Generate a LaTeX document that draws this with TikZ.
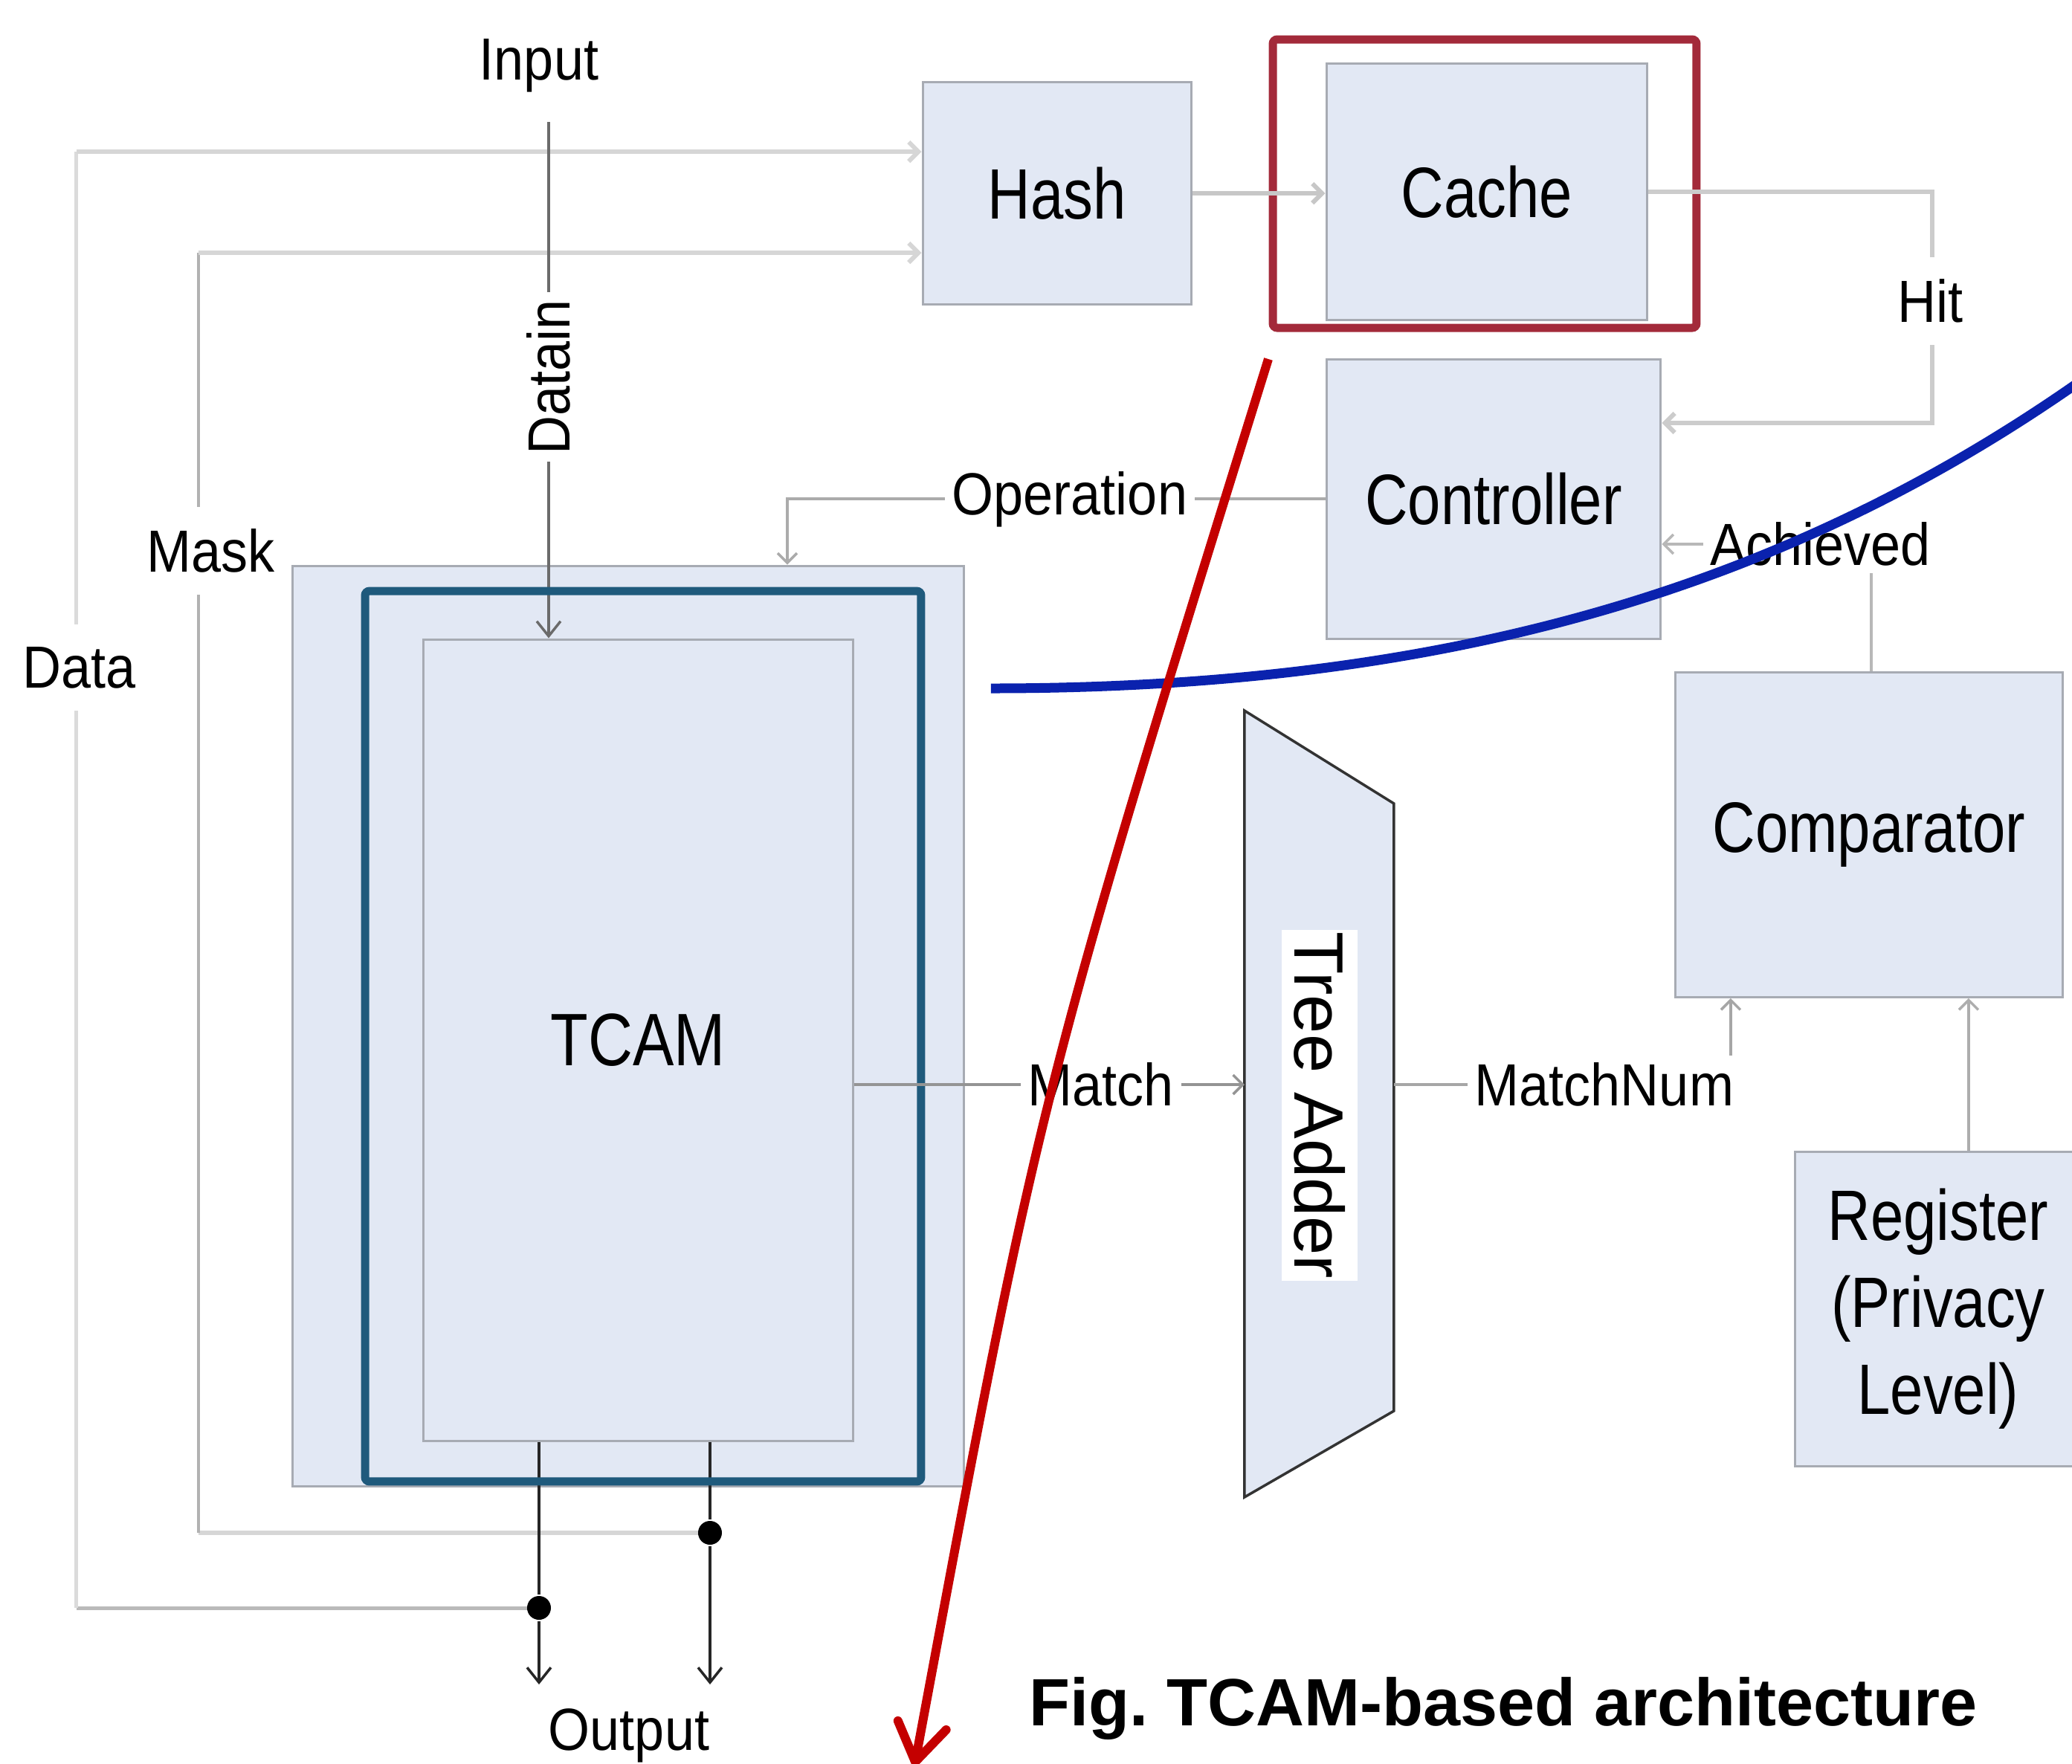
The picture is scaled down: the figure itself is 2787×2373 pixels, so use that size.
\documentclass[tikz,border=0pt]{standalone}
\usepackage{fontspec}
\setmainfont{Liberation Sans}
\newfontfamily\condfam[FakeStretch=0.83]{Liberation Sans}
\newfontfamily\smallfam[FakeStretch=0.9]{Liberation Sans}
\usetikzlibrary{arrows.meta}
\newcommand\bxfont{\condfam\fontsize{9.6}{11.7}\selectfont}
\newcommand\lbfont{\smallfam\fontsize{8}{9.6}\selectfont}
\newcommand\cpfont{\fontsize{9}{11}\selectfont\bfseries}
\definecolor{boxfill}{HTML}{E2E8F4}
\definecolor{boxgray}{HTML}{A7ABB3}
\definecolor{redbox}{HTML}{A32A3A}
\definecolor{tcamblue}{HTML}{1F5A7C}
\definecolor{curveblue}{HTML}{0A22AE}
\definecolor{curvered}{HTML}{C40000}
\tikzset{
  blk/.style={draw=boxgray, line width=0.3pt, fill=boxfill, inner sep=0pt, font=\bxfont},
  lbl/.style={font=\lbfont, inner sep=1pt, fill=white},
  gtip/.style={-{Straight Barb[length=1.3pt,width=2.6pt]}},
  dtip/.style={-{Straight Barb[length=2pt,width=3.2pt]}},
  paleline/.style={draw=black!16, line width=0.6pt},
  midline/.style={draw=black!30, line width=0.35pt},
  darkline/.style={draw=black!58, line width=0.35pt},
  blackline/.style={draw=black!85, line width=0.35pt},
  dot/.style={circle, fill=black, inner sep=0pt, minimum size=3.2pt},
}
\begin{document}
\begin{tikzpicture}[x=0.1pt, y=-0.1pt]
\useasboundingbox (0,0) rectangle (2787,2373);
\fill[white] (0,0) rectangle (2787,2373);

% ---- functional blocks ----
\node[blk, minimum width=36.2pt, minimum height=29.9pt] (hash) at (1422,260) {Hash};
\node[blk, minimum width=43.2pt, minimum height=34.5pt] (cache) at (2000,258) {Cache};
\node[draw=redbox, line width=1.1pt, rounded corners=0.6pt, minimum width=57pt, minimum height=38.8pt] (hl) at (1997,247) {};
\node[blk, minimum width=45pt, minimum height=37.6pt] (ctrl) at (2009,671) {Controller};
\node[blk, minimum width=52.1pt, minimum height=43.7pt] (comp) at (2514,1123) {Comparator};
\node[blk, minimum width=38.6pt, minimum height=42.3pt, align=center] (reg) at (2607,1761) {Register\\(Privacy\\Level)};

% ---- feedback paths: Data and Mask ----
\coordinate (dotApos) at (725,2163);
\coordinate (dotBpos) at (955,2062);
\coordinate (dbot) at (103,2163);
\coordinate (dtop) at (103,204);
\draw[draw=black!27, line width=0.5pt] (dotApos) -- (dbot);
\draw[draw=black!14, line width=0.5pt] (dbot) -- (dtop);
\draw[paleline, gtip] (dtop) -- (dtop -| hash.west);
\node[lbl, inner sep=3pt] (datal) at (107,898) {Data};

\coordinate (mbot) at (267,2062);
\coordinate (mtop) at (267,340);
\draw[paleline] (dotBpos) -- (mbot);
\draw[midline] (mbot) -- (mtop);
\draw[paleline, gtip] (mtop) -- (mtop -| hash.west);
\node[lbl, inner sep=3pt] (maskl) at (284,741) {Mask};

% ---- TCAM block ----
\node[blk, minimum width=90.4pt, minimum height=123.9pt] (outer) at (845,1380.5) {};
\node[blk, minimum width=57.9pt, minimum height=107.9pt, font=\condfam\fontsize{10}{12}\selectfont] (tcam) at (858.5,1399.5) {TCAM};

% ---- tree adder ----
\coordinate (ta1) at (1674,956);
\coordinate (ta2) at (1875,1081);
\coordinate (ta3) at (1875,1898);
\coordinate (ta4) at (1674,2014);
\coordinate (adderin) at (1674,1459);
\coordinate (adderout) at (1875,1459);
\draw[fill=boxfill, draw=black!80, line width=0.35pt] (ta1) -- (ta2) -- (ta3) -- (ta4) -- cycle;
\node[fill=white, rotate=-90, inner xsep=0.3pt, inner ysep=1.6pt, font=\fontsize{9.4}{11}\selectfont] (adder) at (1775,1487) {Tree Adder};

% ---- Input / Datain ----
\node[font=\lbfont] (input) at (725,88) {Input};
\coordinate (intop) at (738,164);
\draw[darkline, dtip] (intop) -- (intop |- tcam.north);
\node[lbl, rotate=90] (datain) at (738,507) {Datain};

% ---- outputs ----
\node[dot] (dotA) at (dotApos) {};
\node[dot] (dotB) at (dotBpos) {};
\coordinate (outA) at (725,2266);
\coordinate (outB) at (955,2266);
\draw[blackline, dtip] (tcam.south -| outA) -- (dotA) -- (outA);
\draw[blackline, dtip] (tcam.south -| outB) -- (dotB) -- (outB);
\node[font=\lbfont] (outl) at (846,2335) {Output};

% ---- blue frame around the TCAM array ----
\node[draw=tcamblue, line width=1.1pt, rounded corners=0.6pt, minimum width=74.8pt, minimum height=119.8pt] (frame) at (865,1394) {};

% ---- Hash -> Cache ----
\draw[paleline, draw=black!22, gtip] (hash.east) -- (hash.east -| cache.west);

% ---- Hit ----
\coordinate (hitc) at (2599,569);
\draw[paleline, draw=black!20, gtip] (cache.east) -| (hitc) -- (hitc -| ctrl.east);
\node[lbl, inner sep=3pt] (hitl) at (2597,405) {Hit};

% ---- Operation ----
\coordinate (opx) at (1059,0);
\draw[midline, draw=black!33, gtip] (ctrl.west) -| (opx |- outer.north);
\node[lbl] (opl) at (1439,672) {Operation};

% ---- Achieved ----
\coordinate (ach) at (2517,732);
\draw[midline, draw=black!28, gtip] (ach |- comp.north) -- (ach) -- (ach -| ctrl.east);
\node[lbl] (achl) at (2449,732) {Achieved};

% ---- Match ----
\draw[midline, draw=black!42, gtip] (adderin -| tcam.east) -- (adderin);
\node[lbl] (matchl) at (1481,1459) {Match};

% ---- MatchNum ----
\coordinate (mnc) at (2328,1459);
\draw[midline, draw=black!35, gtip] (adderout) -- (mnc) -- (mnc |- comp.south);
\node[lbl] (mnl) at (2158,1459) {MatchNum};

% ---- Register -> Comparator ----
\coordinate (rx) at (2648,0);
\draw[midline, draw=black!32, gtip] (rx |- reg.north) -- (rx |- comp.south);

% ---- annotation curves ----
\coordinate (bluestart) at (1333,926);
\coordinate (blueend) at (2795,515);
\draw[curveblue, line width=1.3pt] (bluestart) .. controls (1933,926) and (2390,798) .. (blueend);
\coordinate (redstart) at (1706,483);
\coordinate (redend) at (1230,2376);
\draw[curvered, line width=1.2pt, -{Straight Barb[length=5pt,width=6.6pt,round]}] (redstart) .. controls (1397,1478) .. (redend);

% ---- caption ----
\node[font=\cpfont, anchor=base, inner sep=0pt] (cap) at (2022,2321) {\frenchspacing Fig. TCAM-based architecture};
\end{tikzpicture}
\end{document}
